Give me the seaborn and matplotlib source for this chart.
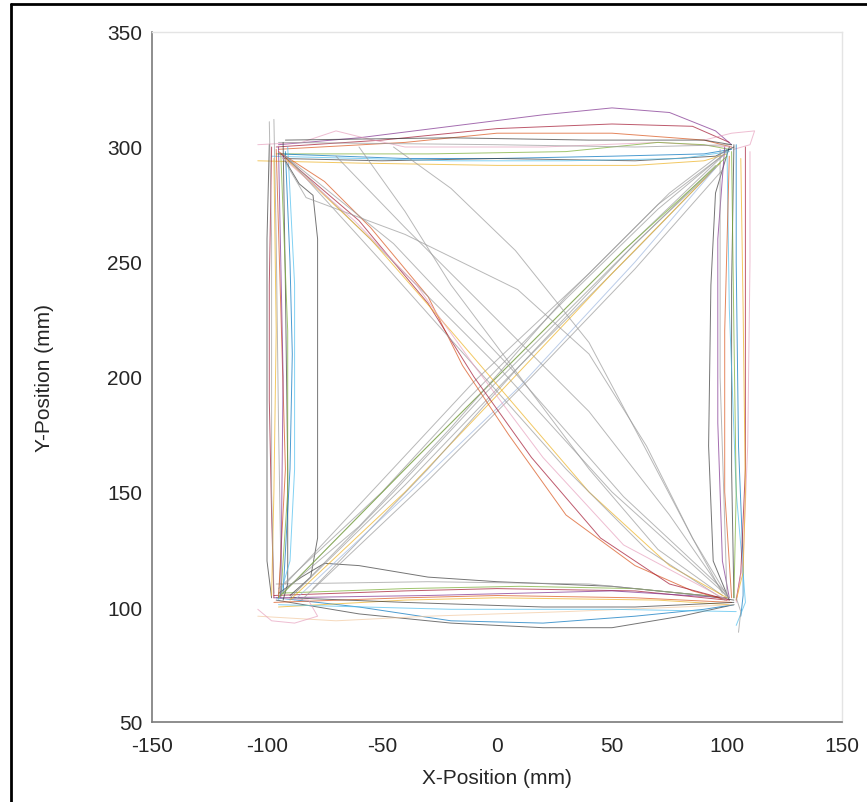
import pandas as pd
import numpy as np
import matplotlib.pyplot as plt
import seaborn as sns
from matplotlib.lines import Line2D

# 궤적 데이터 (그림에서 읽은 대략적인 경유점, 단위 mm)
# MATLAB 기본 색상 순서
c_blue = "#0072BD"
c_orange = "#D95319"
c_yellow = "#EDB120"
c_purple = "#7E2F8E"
c_green = "#77AC30"
c_cyan = "#4DBEEE"
c_red = "#A2142F"
c_pink = "#E7A1BE"
c_gray = "#9a9a9a"
c_dark = "#3a3a3a"

# 위쪽 변 (왼쪽 위 -> 오른쪽 위)
top_paths = [
    [(-95, 301), (-60, 304), (-20, 309), (20, 314), (50, 317), (75, 315), (95, 307), (102, 301)],
    [(-96, 300), (-50, 303), (0, 308), (50, 310), (85, 309), (101, 302)],
    [(-95, 299), (-40, 302), (0, 306), (50, 306), (90, 303), (102, 300)],
    [(-104, 301), (-85, 302), (-70, 307), (-58, 304), (-40, 300), (20, 300), (70, 302), (102, 300)],
    [(-96, 297), (-30, 297), (30, 298), (70, 302), (90, 301), (101, 299)],
    [(-95, 297), (-40, 295), (0, 295), (50, 296), (90, 297), (102, 299)],
    [(-93, 295), (-50, 294), (0, 295), (60, 294), (95, 296), (103, 300)],
    [(-104, 294), (-60, 293), (0, 292), (60, 292), (90, 294), (100, 297)],
    [(-98, 296), (-20, 294), (30, 294), (80, 295), (101, 298)],
    [(-95, 302), (0, 301), (60, 300), (102, 301)],
    [(90, 303), (102, 306), (112, 307), (110, 301), (103, 299)],
    [(-92, 303), (-20, 304), (40, 303), (90, 303), (102, 301)],
]
top_colors = [c_purple, c_red, c_orange, c_pink, c_green, c_blue, c_dark,
              c_yellow, c_cyan, c_gray, c_pink, c_dark]

# 아래쪽 변
bottom_paths = [
    [(-96, 103), (-60, 97), (-20, 93), (20, 91), (50, 91), (80, 96), (103, 101)],
    [(-96, 104), (-60, 100), (-20, 94), (20, 93), (60, 96), (90, 99), (103, 101)],
    [(-95, 106), (-85, 113), (-75, 119), (-60, 118), (-30, 113), (0, 111), (50, 109), (90, 105), (103, 103)],
    [(-97, 105), (-40, 107), (0, 108), (60, 107), (100, 103)],
    [(-97, 102), (-40, 104), (0, 105), (60, 104), (102, 102)],
    [(-95, 100), (-40, 103), (0, 104), (70, 103), (101, 101)],
    [(-95, 106), (-40, 108), (10, 109), (60, 108), (100, 104)],
    [(-97, 104), (-30, 105), (50, 107), (100, 104)],
    [(-104, 96), (-70, 94), (-30, 96), (30, 98), (80, 100), (103, 101)],
    [(-96, 110), (-30, 111), (40, 110), (100, 104)],
    [(-104, 99), (-98, 94), (-88, 93), (-78, 96), (-82, 103), (-95, 104)],
    [(-95, 101), (-20, 99), (50, 99), (104, 98)],
    [(-90, 104), (-40, 102), (20, 100), (60, 100), (103, 102)],
]
bottom_colors = [c_dark, c_blue, c_dark, c_red, c_orange, c_yellow, c_green,
                 c_purple, "#f2c9a0", c_gray, c_pink, c_cyan, c_dark]

# 왼쪽 변
left_paths = [
    [(-99, 301), (-100, 260), (-100, 180), (-100, 120), (-98, 104)],
    [(-97, 312), (-96, 260), (-95, 180), (-94, 120), (-95, 104)],
    [(-93, 302), (-92, 240), (-91, 160), (-91, 110), (-93, 103)],
    [(-92, 298), (-90, 250), (-89, 210), (-90, 160), (-93, 106)],
    [(-91, 300), (-88, 240), (-88, 160), (-90, 120), (-95, 103)],
    [(-98, 300), (-99, 240), (-99, 190), (-98, 140), (-97, 104)],
    [(-92, 294), (-86, 284), (-80, 279), (-78, 260), (-78, 180), (-78, 130), (-81, 113), (-90, 105)],
    [(-96, 299), (-94, 230), (-92, 160), (-95, 104)],
    [(-94, 297), (-91, 220), (-91, 150), (-94, 105)],
    [(-97, 295), (-96, 220), (-97, 150), (-98, 105)],
    [(-95, 300), (-93, 200), (-94, 104)],
    [(-99, 311), (-98, 260), (-98, 150), (-97, 106)],
]
left_colors = [c_dark, c_gray, c_dark, c_blue, c_cyan, c_red, c_dark,
               c_orange, c_green, c_yellow, c_purple, c_gray]

# 오른쪽 변
right_paths = [
    [(101, 300), (95, 280), (93, 240), (92, 170), (94, 120), (101, 103)],
    [(99, 300), (96, 260), (96, 180), (98, 120), (101, 104)],
    [(103, 301), (102, 240), (102, 160), (103, 104)],
    [(104, 301), (104, 250), (105, 170), (107, 120), (107, 105), (106, 96)],
    [(100, 299), (101, 230), (104, 150), (107, 115), (108, 102), (104, 92)],
    [(108, 300), (108, 240), (108, 160), (106, 115), (104, 103)],
    [(110, 298), (110, 250), (109, 170), (107, 120), (104, 102)],
    [(101, 296), (99, 220), (99, 150), (102, 104)],
    [(106, 295), (107, 230), (108, 150), (107, 115), (104, 103)],
    [(102, 298), (103, 220), (104, 150), (103, 104)],
    [(104, 104), (106, 98), (105, 89)],
    [(97, 299), (97, 200), (100, 105)],
]
right_colors = [c_dark, c_purple, c_dark, c_blue, c_cyan, c_red, c_pink,
                c_orange, c_yellow, c_green, c_gray, c_gray]

# 대각선 (왼쪽 아래 -> 오른쪽 위)
diag_up_paths = [
    [(-93, 106), (-40, 160), (0, 200), (50, 250), (98, 296)],
    [(-90, 104), (-40, 153), (5, 200), (60, 255), (97, 293)],
    [(-88, 106), (-45, 150), (-5, 193), (50, 248), (95, 292)],
    [(-95, 108), (-50, 150), (-15, 188), (30, 234), (70, 273), (100, 298)],
    [(-85, 103), (-30, 155), (15, 200), (60, 247), (98, 290)],
    [(-92, 110), (-50, 155), (-10, 198), (40, 245), (75, 280), (100, 299)],
    [(-90, 103), (-40, 150), (0, 192), (50, 245), (97, 293)],
    [(-80, 108), (-30, 160), (10, 205), (60, 258), (95, 291)],
    [(-95, 104), (-35, 165), (20, 220), (55, 255), (100, 296)],
    [(-88, 103), (-40, 148), (10, 196), (60, 250), (96, 292)],
    [(-94, 106), (-60, 135), (-20, 178), (30, 235), (70, 275), (99, 297)],
]
diag_up_colors = [c_gray, c_gray, c_gray, c_gray, c_gray, c_gray, c_yellow,
                  c_gray, c_green, "#9fb8e0", c_gray]

# 대각선 (왼쪽 위 -> 오른쪽 아래)
diag_down_paths = [
    [(-95, 298), (-75, 285), (-55, 265), (-30, 235), (-15, 205), (5, 175), (30, 140), (60, 118), (85, 107), (100, 103)],
    [(-94, 297), (-60, 268), (-30, 232), (-10, 200), (15, 165), (45, 130), (75, 110), (101, 103)],
    [(-93, 297), (-50, 255), (0, 205), (50, 150), (101, 104)],
    [(-92, 296), (-45, 258), (5, 205), (55, 148), (100, 106)],
    [(-93, 295), (-83, 278), (-40, 262), (9, 238), (40, 210), (65, 170), (85, 130), (100, 105)],
    [(-60, 300), (-40, 272), (-20, 240), (10, 200), (40, 160), (70, 125), (98, 105)],
    [(-45, 300), (-20, 282), (8, 255), (40, 215), (65, 168), (85, 130), (98, 106)],
    [(-70, 296), (-40, 265), (0, 225), (40, 185), (75, 140), (100, 104)],
    [(-92, 295), (-55, 260), (-20, 220), (10, 185), (40, 150), (75, 118), (100, 104)],
    [(-90, 294), (-50, 250), (-10, 205), (30, 160), (65, 125), (99, 103)],
    [(-94, 296), (-62, 268), (-35, 240), (-10, 205), (20, 165), (55, 127), (100, 103)],
]
diag_down_colors = [c_orange, c_red, c_gray, c_gray, c_gray, c_gray, c_gray,
                    c_gray, c_yellow, c_gray, c_pink]

x_ticks = [-150, -100, -50, 0, 50, 100, 150]
y_ticks = [50, 100, 150, 200, 250, 300, 350]

# 스타일 설정
sns.set_theme(style="white")
plt.rcParams["font.family"] = ["Liberation Sans", "DejaVu Sans"]
plt.rcParams["axes.unicode_minus"] = False

fig = plt.figure(figsize=(8.67, 8.03), dpi=100)
ax = fig.add_axes([152 / 867, 80 / 803, 690 / 867, 690 / 803])

groups = [
    (top_paths, top_colors),
    (bottom_paths, bottom_colors),
    (left_paths, left_colors),
    (right_paths, right_colors),
    (diag_up_paths, diag_up_colors),
    (diag_down_paths, diag_down_colors),
]

# 각 궤적을 선으로 그림
for paths, colors in groups:
    for pts, col in zip(paths, colors):
        df = pd.DataFrame(pts, columns=["x", "y"])
        sns.lineplot(data=df, x="x", y="y", sort=False, estimator=None,
                     color=col, lw=0.7, alpha=0.7, ax=ax)

ax.set_xlim(-150, 150)
ax.set_ylim(50, 350)
ax.set_xticks(x_ticks)
ax.set_yticks(y_ticks)

ax.set_xlabel("X-Position (mm)", fontsize=15, color="#262626")
ax.set_ylabel("Y-Position (mm)", fontsize=15, color="#262626")
ax.xaxis.set_label_coords(0.5, -0.066)
ax.yaxis.set_label_coords(-0.142, 0.5)

ax.tick_params(axis="both", direction="in", length=4, width=0.8,
               color="#8a8a8a", labelsize=15, labelcolor="#262626")
ax.tick_params(axis="x", pad=10)
ax.tick_params(axis="y", pad=7)

for side in ["left", "bottom"]:
    ax.spines[side].set_color("#7a7a7a")
    ax.spines[side].set_linewidth(1.2)
for side in ["top", "right"]:
    ax.spines[side].set_color("#e4e4e4")
    ax.spines[side].set_linewidth(1.0)

# 바깥쪽 테두리 (왼쪽, 위쪽)
fig.add_artist(Line2D([11 / 867, 11 / 867], [0, 1 - 5 / 803], transform=fig.transFigure,
                      color="black", lw=2))
fig.add_artist(Line2D([11 / 867, 1], [1 - 5 / 803, 1 - 5 / 803], transform=fig.transFigure,
                      color="black", lw=2))

fig.savefig("out.png", dpi=100)
